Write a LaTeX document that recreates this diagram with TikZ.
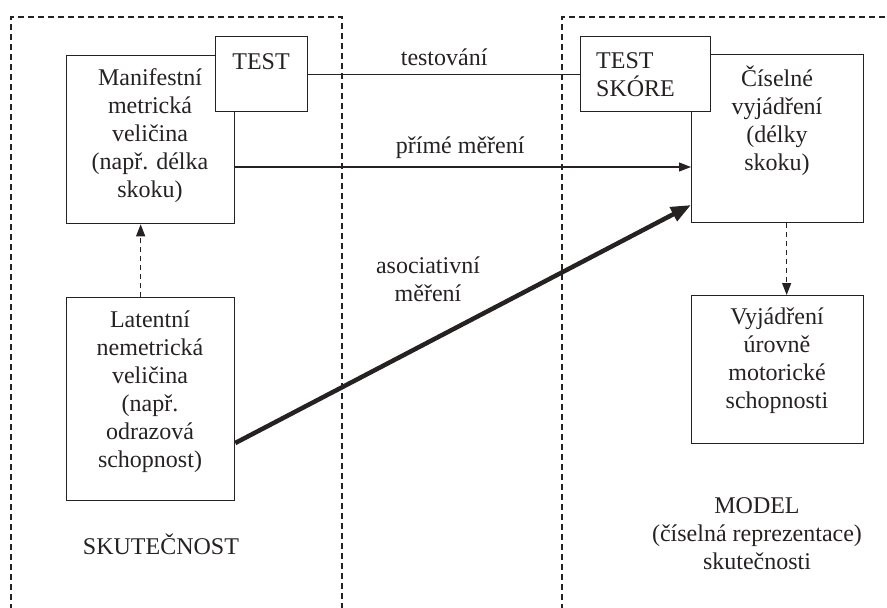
\documentclass[tikz,border=0pt]{standalone}
\usepackage{fontspec}
\setmainfont{Liberation Serif}
\usetikzlibrary{arrows.meta}
\definecolor{ink}{RGB}{38,34,34}
\begin{document}
\begin{tikzpicture}[x=1pt,y=-1pt,
  box/.style={draw=ink, line width=1.3pt, fill=white, inner sep=0pt, anchor=north west},
  txt/.style={text=ink, font=\fontsize{24}{28}\selectfont, align=center, inner sep=0pt},
  frame/.style={draw=ink, line width=1.2pt, dash pattern=on 6pt off 4pt},
  conn/.style={draw=ink, line width=1.2pt},
  dotconn/.style={conn, dash pattern=on 5pt off 4pt},
  tip/.style={-{Triangle[length=12pt,width=9pt]}},
  bigtip/.style={-{Triangle[length=20pt,width=15pt]}},
]
\useasboundingbox[fill=white] (0,0) rectangle (887,608);

% the two dashed regions: reality (left) and model (right)
\begin{scope}
  \clip (0,0) rectangle (887,608);
  \draw[frame] (11,620) -- (11,17) -- (342,17) -- (342,620);
  \draw[frame] (562,620) -- (562,17) -- (900,17);
\end{scope}

% boxes
\node[box, minimum width=168, minimum height=168] (man) at (66,55) {};
\node[box, minimum width=92, minimum height=75] (test) at (215,36) {};
\node[box, minimum width=168, minimum height=203] (lat) at (66,297) {};
\node[box, minimum width=172, minimum height=168] (cis) at (691,54) {};
\node[box, minimum width=130, minimum height=75] (skore) at (580,36) {};
\node[box, minimum width=172, minimum height=148] (vyj) at (691,295) {};

% box texts
\node[txt] (tman) at (150,136) {Manifestní\\metrická\\veličina\\(např. délka\\skoku)};
\node[txt] (ttest) at (261,62) {TEST};
\node[txt, anchor=west, align=left] (tskore) at (596,75) {TEST\\SKÓRE};
\node[txt] (tlat) at (150,392) {Latentní\\nemetrická\\veličina\\(např.\\odrazová\\schopnost)};
\node[txt] (tcis) at (777,121) {Číselné\\vyjádření\\(délky\\skoku)};
\node[txt] (tvyj) at (777,361) {Vyjádření\\úrovně\\motorické\\schopnosti};

% region captions
\node[txt] (cap1) at (161,544) {SKUTEČNOST};
\node[txt] (cap2) at (757,534) {MODEL\\(číselná reprezentace)\\skutečnosti};

% connectors
\draw[conn] (test.east) -- node[txt, above=8pt] (ltest) {testování} (skore.west);
\coordinate (pa) at (man.east |- 0,167);
\coordinate (pb) at (cis.west |- 0,167);
\draw[conn, tip] (pa) -- node[txt, above=8pt, xshift=-3pt] (lprime) {přímé měření} (pb);
\coordinate (aa) at (lat.east |- 0,443);
\coordinate (ab) at (cis.west |- 0,205);
\draw[draw=ink, line width=4.5pt, bigtip] (aa) -- (ab);
\node[txt] (lasoc) at (428,279) {asociativní\\měření};
\draw[dotconn, tip] ([xshift=-10pt]lat.north) -- ([xshift=-10pt]man.south);
\draw[dotconn, tip] ([xshift=9pt]cis.south) -- ([xshift=9pt]vyj.north);
\end{tikzpicture}
\end{document}
